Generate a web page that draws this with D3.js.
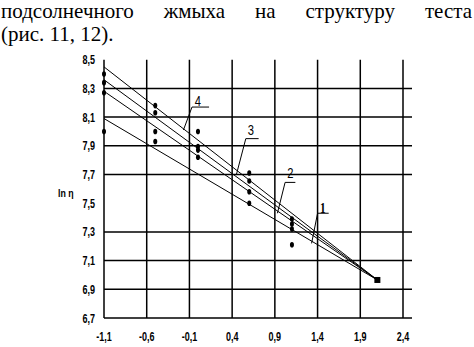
<!DOCTYPE html>
<html>
<head>
<meta charset="utf-8">
<script src="https://cdn.jsdelivr.net/npm/d3@7"></script>
<style>
  html, body { margin: 0; padding: 0; background: #fff; }
  svg { display: block; }
  .serif { font-family: "Liberation Serif", "Times New Roman", "DejaVu Serif", serif; }
  .sans { font-family: "Liberation Sans", Arial, "DejaVu Sans", sans-serif; }
</style>
</head>
<body>
<div id="chart"></div>
<script>
// ---- Data ----
const headerLine1 = ["подсолнечного", "жмыха", "на", "структуру", "теста"];
const headerLine2 = "(рис. 11, 12).";

const xTicks = [-1.1, -0.6, -0.1, 0.4, 0.9, 1.4, 1.9, 2.4];
const xTickLabels = ["-1,1", "-0,6", "-0,1", "0,4", "0,9", "1,4", "1,9", "2,4"];
const yTicks = [6.7, 6.9, 7.1, 7.3, 7.5, 7.7, 7.9, 8.1, 8.3, 8.5];
const yTickLabels = ["6,7", "6,9", "7,1", "7,3", "7,5", "7,7", "7,9", "8,1", "8,3", "8,5"];
const yGrid = [6.7, 6.9, 7.1, 7.3, 7.7, 7.9, 8.1, 8.3];   // no line at 7,5 and 8,5

// measured points (one x per group, four values each)
const pointX = [-1.1, -0.5, 0.0, 0.6, 1.1];
const points1 = [8.00, 7.93, 7.82, 7.50, 7.21];
const points2 = [8.27, 8.00, 7.87, 7.58, 7.32];
const points3 = [8.34, 8.13, 7.895, 7.655, 7.355];
const points4 = [8.40, 8.18, 8.00, 7.71, 7.39];
const endX = 2.1, endY = 6.965;

// fitted lines: value at x = -1.1, all ending at (2.1, 6.965)
const lineNames = ["1", "2", "3", "4"];
const lineStart = [8.09, 8.28, 8.36, 8.45];

// label callouts: text position, shelf from..to, pointer tip (data units)
const calloutText = [[1.46, 7.47], [1.08, 7.71], [0.62, 8.01], [0.0, 8.21]];
const calloutShelf = [[1.40, 1.53, 7.43], [1.02, 1.14, 7.645], [0.56, 0.71, 7.95], [-0.07, 0.13, 8.17]];
const calloutTip = [[1.33, 7.22], [0.93, 7.43], [0.45, 7.70], [-0.17, 8.01]];

// ---- Layout ----
const W = 474, H = 347;
const svg = d3.select("#chart").append("svg").attr("width", W).attr("height", H);

const x = d3.scaleLinear().domain([-1.1, 2.4]).range([104, 403]);
const y = d3.scaleLinear().domain([6.7, 8.5]).range([318, 59.7]);

// ---- Header text (justified first line) ----
const words = svg.append("g").selectAll("text")
  .data(headerLine1).join("text")
  .attr("class", "serif")
  .attr("y", 18)
  .attr("font-size", 21)
  .text(d => d);
const widths = words.nodes().map(n => n.getComputedTextLength());
const left = 1, right = 472;
const gap = (right - left - d3.sum(widths)) / (widths.length - 1);
let cx = left;
words.attr("x", (d, i) => { const v = cx; cx += widths[i] + gap; return v; });
svg.append("text").attr("class", "serif")
  .attr("x", 1).attr("y", 41)
  .attr("font-size", 21)
  .text(headerLine2);

// ---- Grid ----
const grid = svg.append("g").attr("stroke", "#000").attr("stroke-width", 1.5);
grid.selectAll("line.v").data(xTicks).join("line").attr("class", "v")
  .attr("x1", d => x(d)).attr("x2", d => x(d))
  .attr("y1", y(8.5)).attr("y2", y(6.7));
grid.selectAll("line.h").data(yGrid).join("line").attr("class", "h")
  .attr("x1", x(-1.1)).attr("x2", x(2.4) + 9)
  .attr("y1", d => y(d)).attr("y2", d => y(d));

// ---- Tick labels (narrow, bold) ----
svg.append("g").selectAll("text").data(yTicks).join("text")
  .attr("class", "sans")
  .attr("transform", d => `translate(95,${y(d) + 4.5}) scale(0.72,1)`)
  .attr("text-anchor", "end")
  .attr("font-size", 12.5).attr("font-weight", "bold")
  .text((d, i) => yTickLabels[i]);
svg.append("g").selectAll("text").data(xTicks).join("text")
  .attr("class", "sans")
  .attr("transform", d => `translate(${x(d)},341) scale(0.72,1)`)
  .attr("text-anchor", "middle")
  .attr("font-size", 12.5).attr("font-weight", "bold")
  .text((d, i) => xTickLabels[i]);

svg.append("text").attr("class", "sans")
  .attr("transform", "translate(58,197) scale(0.8,1)")
  .attr("font-size", 11).attr("font-weight", "bold")
  .text("ln η");

// ---- Fitted lines ----
svg.append("g").selectAll("line").data(lineStart).join("line")
  .attr("x1", x(-1.1)).attr("y1", d => y(d))
  .attr("x2", x(endX)).attr("y2", y(endY))
  .attr("stroke", "#000").attr("stroke-width", 1);

// ---- Points ----
const allPoints = [points1, points2, points3, points4]
  .flatMap(s => s.map((v, i) => [pointX[i], v]));
svg.append("g").selectAll("ellipse").data(allPoints).join("ellipse")
  .attr("cx", d => x(d[0])).attr("cy", d => y(d[1]))
  .attr("rx", 2).attr("ry", 2.8).attr("fill", "#000");
svg.append("rect")
  .attr("x", x(endX) - 3).attr("y", y(endY) - 3)
  .attr("width", 6).attr("height", 6).attr("fill", "#000");

// ---- Callouts ----
const call = svg.append("g");
lineNames.forEach((name, i) => {
  const [sx1, sx2, sy] = calloutShelf[i];
  const [tx, ty] = calloutTip[i];
  call.append("polyline")
    .attr("points", `${x(sx2)},${y(sy)} ${x(sx1)},${y(sy)} ${x(tx)},${y(ty)}`)
    .attr("fill", "none").attr("stroke", "#000").attr("stroke-width", 1);
  call.append("text")
    .attr("class", i === 0 ? "serif" : "sans")
    .attr("transform", `translate(${x(calloutText[i][0])},${y(calloutText[i][1]) + 5}) scale(0.8,1)`)
    .attr("text-anchor", "middle")
    .attr("font-weight", i === 0 ? "bold" : "normal")
    .attr("font-size", 14)
    .text(name);
});
</script>
</body>
</html>
